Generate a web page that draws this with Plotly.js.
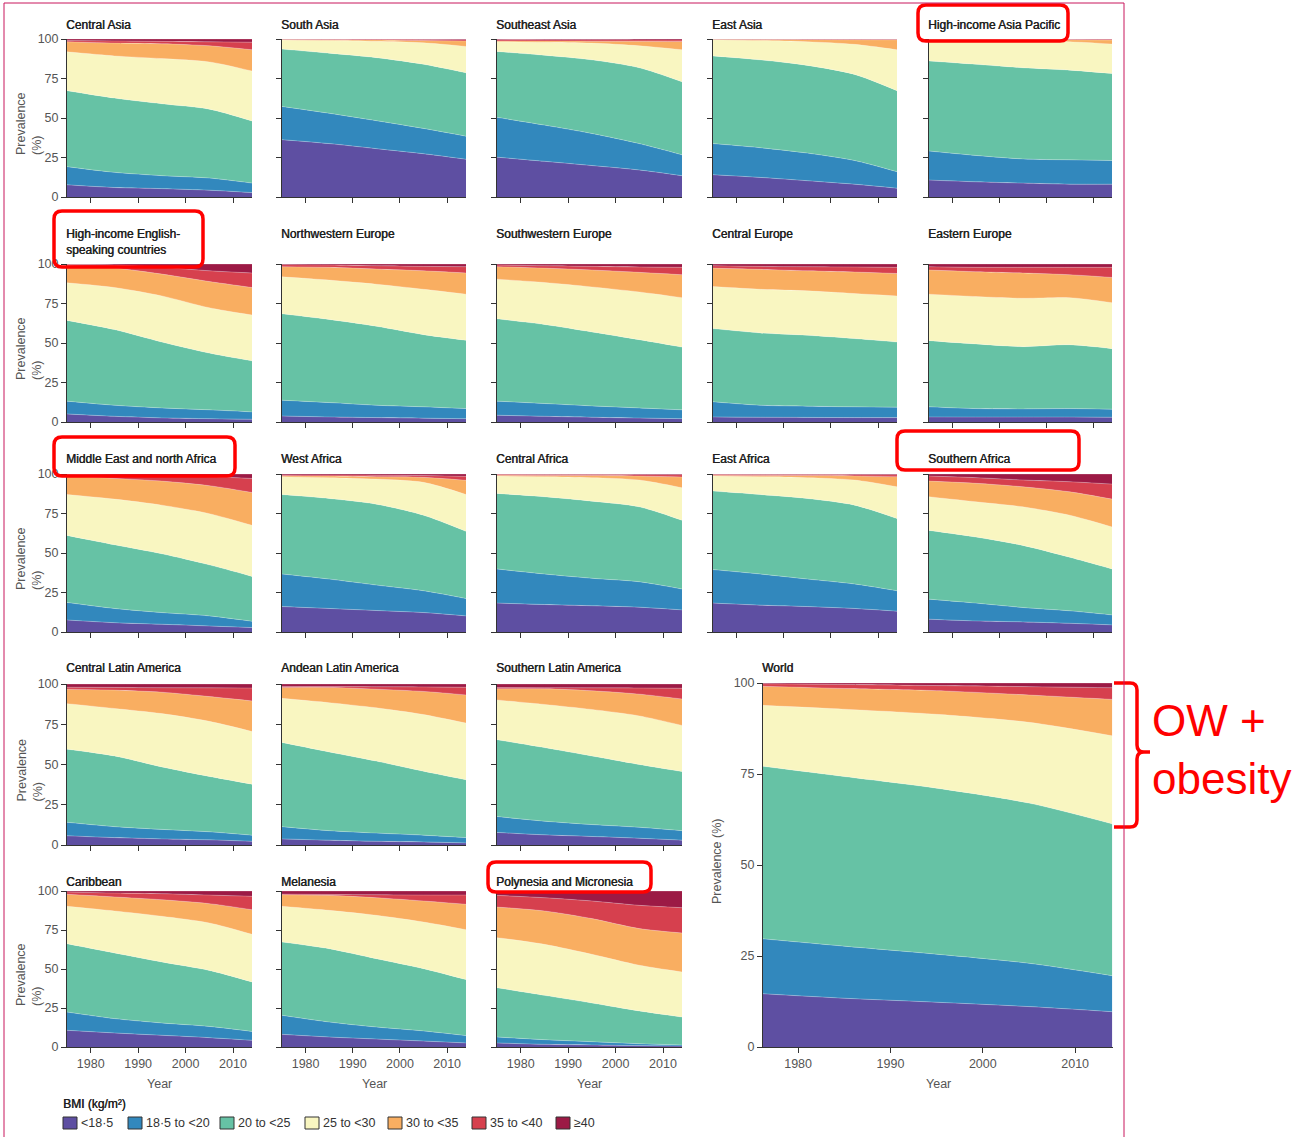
<!DOCTYPE html>
<html>
<head>
<meta charset="utf-8">
<script src="https://cdn.plot.ly/plotly-3.0.1.min.js"></script>
<style>
  html, body { margin: 0; padding: 0; background: #fff; }
  #chart { width: 1296px; height: 1137px; }
</style>
</head>
<body>
<div id="chart"></div>
<script>
// ---- Data: prevalence (%) of each BMI class; rows follow bmiClasses, columns follow years ----
const years = [1975, 1985, 1995, 2005, 2014];
const yearTicks = [1980, 1990, 2000, 2010];
const prevalenceTicks = [0, 25, 50, 75, 100];
const bmiClasses = ['<18·5', '18·5 to <20', '20 to <25', '25 to <30', '30 to <35', '35 to <40', '≥40'];

const centralAsia = [
  [7.7, 6.0, 5.3, 4.3, 2.8],
  [11.5, 9.6, 8.2, 7.7, 6.0],
  [48.1, 47.0, 45.5, 43.6, 39.3],
  [24.6, 26.7, 28.6, 29.9, 31.6],
  [6.3, 8.1, 9.4, 10.2, 13.5],
  [0.8, 1.4, 1.5, 2.5, 4.8],
  [1.0, 1.2, 1.5, 1.8, 2.0]];
const southAsia = [
  [36.3, 33.8, 30.6, 27.4, 23.9],
  [21.0, 19.2, 17.7, 16.0, 14.6],
  [36.3, 38.0, 39.9, 40.6, 40.1],
  [5.7, 8.0, 10.3, 13.6, 16.7],
  [0.4, 0.6, 0.9, 1.4, 3.5],
  [0.2, 0.3, 0.4, 0.7, 0.8],
  [0.1, 0.1, 0.2, 0.3, 0.4]];
const southeastAsia = [
  [25.2, 22.6, 19.9, 17.1, 13.5],
  [25.2, 22.9, 20.3, 16.7, 13.2],
  [41.7, 44.2, 46.6, 48.0, 46.2],
  [6.2, 8.2, 10.6, 13.9, 20.3],
  [0.5, 0.8, 1.2, 2.8, 5.2],
  [0.8, 0.9, 0.9, 0.9, 0.9],
  [0.4, 0.4, 0.5, 0.6, 0.7]];
const eastAsia = [
  [14.1, 12.4, 10.3, 8.1, 5.6],
  [19.7, 18.8, 17.5, 15.0, 10.4],
  [55.5, 55.6, 55.5, 54.5, 51.3],
  [10.3, 12.3, 15.0, 19.0, 25.9],
  [0.2, 0.6, 1.3, 2.9, 6.3],
  [0.1, 0.2, 0.3, 0.3, 0.3],
  [0.1, 0.1, 0.1, 0.2, 0.2]];
const highIncomeAsiaPacific = [
  [10.7, 9.6, 8.8, 8.1, 8.1],
  [18.4, 16.7, 15.3, 15.4, 15.0],
  [57.0, 57.7, 57.7, 56.8, 55.1],
  [13.5, 15.1, 16.9, 18.0, 18.6],
  [0.2, 0.6, 0.9, 1.2, 2.5],
  [0.1, 0.2, 0.3, 0.3, 0.5],
  [0.1, 0.1, 0.1, 0.2, 0.2]];
const highIncomeEnglish = [
  [5.1, 3.6, 2.6, 2.1, 1.7],
  [8.1, 7.0, 6.3, 5.6, 4.7],
  [51.1, 47.9, 41.7, 35.9, 32.3],
  [23.8, 26.6, 29.2, 28.7, 29.0],
  [10.8, 12.3, 13.8, 16.6, 17.4],
  [0.9, 2.0, 4.3, 6.8, 9.2],
  [0.2, 0.6, 2.1, 4.3, 5.7]];
const northwesternEurope = [
  [3.8, 3.2, 2.8, 2.4, 2.1],
  [10.0, 9.1, 7.8, 7.2, 6.4],
  [54.7, 52.6, 50.0, 45.7, 43.2],
  [23.4, 24.9, 26.6, 28.7, 29.2],
  [6.4, 8.1, 9.6, 11.7, 13.4],
  [1.3, 1.5, 2.1, 2.8, 4.0],
  [0.4, 0.6, 1.1, 1.5, 1.7]];
const southwesternEurope = [
  [4.3, 3.6, 3.0, 2.5, 2.1],
  [8.9, 8.1, 7.2, 6.4, 5.6],
  [52.1, 50.0, 46.8, 43.2, 39.7],
  [25.1, 26.6, 28.5, 30.2, 31.3],
  [7.9, 9.1, 10.7, 12.4, 14.5],
  [1.1, 1.5, 2.3, 3.4, 4.7],
  [0.6, 1.1, 1.5, 1.9, 2.1]];
const centralEurope = [
  [3.2, 3.0, 2.9, 2.8, 2.8],
  [9.6, 7.6, 7.1, 6.8, 6.6],
  [46.3, 45.8, 44.9, 43.2, 41.2],
  [26.6, 27.6, 28.1, 28.5, 29.2],
  [11.7, 12.6, 12.7, 13.6, 14.2],
  [1.5, 1.9, 2.6, 3.2, 3.9],
  [1.1, 1.5, 1.7, 1.9, 2.1]];
const easternEurope = [
  [3.2, 3.1, 3.1, 3.1, 3.0],
  [6.4, 5.4, 5.2, 5.4, 5.1],
  [41.9, 40.9, 39.4, 40.4, 38.3],
  [29.4, 30.0, 30.6, 29.8, 29.1],
  [15.3, 15.7, 16.0, 14.5, 16.0],
  [2.1, 2.8, 3.6, 4.7, 6.4],
  [1.7, 2.1, 2.1, 2.1, 2.1]];
const middleEastNorthAfrica = [
  [7.6, 5.9, 4.9, 3.8, 2.8],
  [11.1, 9.0, 7.4, 6.4, 4.0],
  [42.4, 40.3, 37.2, 32.3, 28.4],
  [25.9, 28.9, 30.8, 32.4, 32.3],
  [11.9, 13.1, 15.2, 17.7, 20.8],
  [0.9, 2.2, 3.4, 5.7, 8.9],
  [0.2, 0.6, 1.1, 1.7, 2.8]];
const westAfrica = [
  [16.1, 14.9, 13.6, 12.3, 10.2],
  [20.6, 18.6, 16.1, 13.8, 11.0],
  [50.3, 51.0, 51.2, 47.8, 42.5],
  [11.3, 13.2, 15.9, 20.8, 23.3],
  [0.6, 1.0, 1.5, 3.2, 9.0],
  [0.5, 0.6, 0.9, 1.1, 2.5],
  [0.6, 0.7, 0.8, 1.0, 1.5]];
const centralAfrica = [
  [18.3, 17.4, 16.6, 15.7, 14.0],
  [21.6, 19.3, 17.4, 16.1, 13.2],
  [47.8, 48.9, 48.8, 47.4, 43.5],
  [11.0, 12.7, 14.9, 17.0, 20.6],
  [0.5, 0.8, 1.3, 2.5, 6.8],
  [0.6, 0.6, 0.7, 0.9, 1.4],
  [0.2, 0.3, 0.3, 0.4, 0.5]];
const eastAfrica = [
  [18.3, 17.0, 16.1, 14.9, 13.2],
  [21.2, 19.7, 17.4, 15.5, 12.9],
  [49.7, 50.3, 51.0, 49.9, 45.7],
  [9.5, 11.3, 13.2, 15.9, 20.1],
  [0.5, 0.8, 1.3, 2.6, 6.4],
  [0.6, 0.6, 0.7, 0.8, 1.2],
  [0.2, 0.3, 0.3, 0.4, 0.5]];
const southernAfrica = [
  [8.1, 7.0, 6.4, 5.5, 4.5],
  [12.7, 11.3, 9.1, 7.9, 6.3],
  [43.5, 41.8, 39.3, 33.9, 29.1],
  [21.3, 22.3, 24.4, 26.6, 26.6],
  [9.9, 11.7, 12.7, 14.8, 17.6],
  [3.2, 3.6, 4.3, 6.4, 9.5],
  [1.3, 2.3, 3.8, 4.9, 6.4]];
const centralLatinAmerica = [
  [5.7, 4.6, 3.8, 3.2, 2.3],
  [8.4, 6.8, 5.9, 5.0, 3.8],
  [45.4, 43.9, 38.8, 34.4, 31.7],
  [28.3, 29.5, 33.1, 34.2, 32.7],
  [9.0, 11.4, 13.3, 15.4, 19.0],
  [1.2, 1.7, 2.8, 5.4, 8.0],
  [2.0, 2.1, 2.3, 2.4, 2.5]];
const andeanLatinAmerica = [
  [3.8, 3.0, 2.3, 1.9, 1.3],
  [7.6, 5.9, 5.1, 4.2, 3.3],
  [52.3, 48.9, 44.7, 39.7, 35.9],
  [27.4, 30.6, 33.1, 35.2, 35.2],
  [6.8, 9.5, 11.6, 14.4, 17.5],
  [0.6, 0.5, 1.5, 2.8, 4.8],
  [1.5, 1.6, 1.7, 1.8, 2.0]];
const southernLatinAmerica = [
  [7.8, 6.3, 5.3, 4.2, 3.0],
  [9.9, 8.5, 7.4, 6.8, 5.9],
  [47.7, 45.7, 42.6, 39.0, 36.7],
  [24.7, 26.8, 28.9, 30.2, 28.7],
  [6.9, 9.7, 11.6, 13.5, 16.4],
  [0.8, 0.7, 1.8, 3.8, 6.7],
  [2.2, 2.3, 2.4, 2.5, 2.6]];
const caribbean = [
  [10.7, 9.0, 7.5, 6.0, 4.3],
  [11.7, 9.2, 7.9, 7.2, 5.7],
  [43.8, 42.1, 39.1, 35.9, 31.7],
  [24.0, 26.9, 29.3, 30.4, 30.5],
  [7.7, 9.0, 10.6, 12.4, 15.8],
  [1.5, 2.5, 3.9, 5.5, 8.6],
  [0.6, 1.3, 1.7, 2.6, 3.4]];
const melanesia = [
  [8.1, 6.4, 5.1, 3.8, 2.6],
  [12.2, 9.6, 7.7, 6.5, 4.7],
  [47.0, 47.0, 43.8, 39.9, 35.9],
  [22.9, 24.6, 27.8, 29.9, 32.0],
  [7.4, 9.6, 11.3, 13.5, 16.3],
  [0.4, 0.6, 1.9, 3.8, 5.9],
  [2.0, 2.2, 2.4, 2.6, 2.6]];
const polynesiaMicronesia = [
  [2.6, 1.7, 1.3, 0.9, 0.6],
  [3.8, 3.0, 2.1, 1.2, 0.7],
  [31.6, 28.4, 24.8, 21.0, 17.9],
  [32.1, 32.7, 31.2, 29.3, 28.9],
  [19.6, 21.4, 22.9, 23.5, 25.0],
  [7.5, 8.5, 11.3, 14.9, 16.2],
  [2.8, 4.3, 6.4, 9.2, 10.7]];
const world = [
  [14.8, 13.4, 12.3, 11.1, 9.7],
  [15.2, 14.3, 13.2, 11.9, 9.9],
  [47.5, 46.6, 45.6, 44.0, 41.7],
  [16.5, 18.5, 20.3, 22.2, 24.2],
  [5.2, 5.7, 6.5, 7.5, 10.0],
  [0.6, 1.1, 1.4, 2.3, 3.2],
  [0.2, 0.4, 0.7, 1.0, 1.3]];

// ---- Styling ----
const W = 1296, H = 1137;
const bmiColours = ['#5e4fa2', '#3288bd', '#66c2a5', '#f9f6c1', '#f9ae61', '#d6404e', '#9c1a45'];
const regularFont = '"Liberation Sans", Arial, sans-serif';
const axisColour = '#333';
const labelColour = '#555';
const titleColour = '#1f1f1f';
const markRed = '#ff0000';
const frameColour = '#c8175d';
const titleFont = {family: regularFont, size: 12, color: titleColour, shadow: '0.45px 0 0 ' + titleColour};

// plot-area boxes in pixels: columns [left, right], rows [top, bottom]
const colX = [[67, 252], [282, 466], [497, 682], [713, 897], [929, 1112]];
const rowY = [[39, 197], [264, 422], [474, 632], [684, 845], [891, 1047]];
const titleY = [25, 234, 459, 668, 882];

// region, data, row, column
const panels = [
  ['Central Asia', centralAsia, 0, 0],
  ['South Asia', southAsia, 0, 1],
  ['Southeast Asia', southeastAsia, 0, 2],
  ['East Asia', eastAsia, 0, 3],
  ['High-income Asia Pacific', highIncomeAsiaPacific, 0, 4],
  ['High-income English-<br>speaking countries', highIncomeEnglish, 1, 0],
  ['Northwestern Europe', northwesternEurope, 1, 1],
  ['Southwestern Europe', southwesternEurope, 1, 2],
  ['Central Europe', centralEurope, 1, 3],
  ['Eastern Europe', easternEurope, 1, 4],
  ['Middle East and north Africa', middleEastNorthAfrica, 2, 0],
  ['West Africa', westAfrica, 2, 1],
  ['Central Africa', centralAfrica, 2, 2],
  ['East Africa', eastAfrica, 2, 3],
  ['Southern Africa', southernAfrica, 2, 4],
  ['Central Latin America', centralLatinAmerica, 3, 0],
  ['Andean Latin America', andeanLatinAmerica, 3, 1],
  ['Southern Latin America', southernLatinAmerica, 3, 2],
  ['Caribbean', caribbean, 4, 0],
  ['Melanesia', melanesia, 4, 1],
  ['Polynesia and Micronesia', polynesiaMicronesia, 4, 2]
];

const px = x => x / W;
const py = y => 1 - y / H;

const traces = [];
const layout = {
  width: W, height: H,
  margin: {l: 0, r: 0, t: 0, b: 0, pad: 0},
  paper_bgcolor: '#fff', plot_bgcolor: '#fff',
  showlegend: false,
  font: {family: regularFont, size: 12.5, color: labelColour},
  annotations: [], shapes: []
};

function addPanel(idx, title, data, box, opts) {
  const xa = idx === 1 ? 'x' : 'x' + idx;
  const ya = idx === 1 ? 'y' : 'y' + idx;
  data.forEach((vals, i) => {
    traces.push({
      type: 'scatter', mode: 'lines', x: years, y: vals,
      xaxis: xa, yaxis: ya, stackgroup: 'bmi' + idx,
      line: {width: 0.7, color: 'rgba(255,255,255,0.35)', shape: 'spline', smoothing: 0.8},
      fillcolor: bmiColours[i], name: bmiClasses[i],
      hoverinfo: 'skip', showlegend: false
    });
  });
  const common = {
    showline: true, linecolor: axisColour, linewidth: 1,
    ticks: 'outside', ticklen: 5, tickwidth: 1, tickcolor: axisColour,
    showgrid: false, zeroline: false, fixedrange: true,
    tickfont: {family: regularFont, size: 12.5, color: labelColour}
  };
  layout['xaxis' + (idx === 1 ? '' : idx)] = Object.assign({}, common, {
    domain: [px(box[0]), px(box[1])], anchor: ya,
    range: opts.xRange, tickmode: 'array', tickvals: yearTicks,
    showticklabels: opts.xLabels
  });
  layout['yaxis' + (idx === 1 ? '' : idx)] = Object.assign({}, common, {
    domain: [py(box[3]), py(box[2])], anchor: xa,
    range: [0, 100], tickmode: 'array', tickvals: prevalenceTicks,
    showticklabels: opts.yLabels
  });
  // panel title
  layout.annotations.push({
    xref: 'paper', yref: 'paper', x: px(box[0] - 3), y: py(opts.titleY),
    xanchor: 'left', yanchor: opts.twoLine ? 'top' : 'middle',
    text: title, showarrow: false, align: 'left', font: titleFont
  });
  if (opts.yTitle) {
    layout.annotations.push({
      xref: 'paper', yref: 'paper', x: px(opts.yTitle[0]), y: py(opts.yTitle[1]),
      xanchor: 'center', yanchor: 'middle', textangle: -90, align: 'left',
      text: opts.yTitle[2], showarrow: false,
      font: {family: regularFont, size: 12.5, color: labelColour}
    });
  }
  if (opts.xTitle) {
    layout.annotations.push({
      xref: 'paper', yref: 'paper', x: px((box[0] + box[1]) / 2), y: py(1084),
      xanchor: 'center', yanchor: 'middle', text: 'Year', showarrow: false,
      font: {family: regularFont, size: 12.5, color: labelColour}
    });
  }
}

panels.forEach((p, k) => {
  const [title, data, r, c] = p;
  const box = [colX[c][0], colX[c][1], rowY[r][0], rowY[r][1]];
  const twoLine = title.indexOf('<br>') >= 0;
  addPanel(k + 1, title, data, box, {
    xRange: [1975, 2014],
    xLabels: r === 4, yLabels: c === 0,
    titleY: twoLine ? titleY[r] - 9 : titleY[r], twoLine: twoLine,
    yTitle: c === 0 ? [29, (rowY[r][0] + rowY[r][1]) / 2 + 6, 'Prevalence<br>(%)'] : null,
    xTitle: r === 4
  });
});

addPanel(22, 'World', world, [763, 1113, 683, 1047], {
  xRange: [1976.2, 2014.1], xLabels: true, yLabels: true,
  titleY: 668, twoLine: false,
  yTitle: [717, 862, 'Prevalence (%)'], xTitle: true
});

// ---- Legend ----
layout.annotations.push({
  xref: 'paper', yref: 'paper', x: px(61), y: py(1104), xanchor: 'left', yanchor: 'middle',
  text: 'BMI (kg/m²)', showarrow: false, font: titleFont
});
const legendX = [63, 128, 220, 305, 388, 472, 556];
bmiClasses.forEach((label, i) => {
  layout.shapes.push({
    type: 'rect', xref: 'paper', yref: 'paper',
    x0: px(legendX[i]), x1: px(legendX[i] + 14), y0: py(1129), y1: py(1117),
    fillcolor: bmiColours[i], line: {color: '#333', width: 1}
  });
  layout.annotations.push({
    xref: 'paper', yref: 'paper', x: px(legendX[i] + 16), y: py(1123),
    xanchor: 'left', yanchor: 'middle', text: label, showarrow: false,
    font: {family: regularFont, size: 12.5, color: '#333'}
  });
});

// ---- Highlight boxes and bracket ----
function roundRect(x0, y0, x1, y1, r) {
  const P = (x, y) => px(x) + ',' + py(y);
  return 'M' + P(x0 + r, y0) + ' L' + P(x1 - r, y0) + ' Q' + P(x1, y0) + ' ' + P(x1, y0 + r) +
    ' L' + P(x1, y1 - r) + ' Q' + P(x1, y1) + ' ' + P(x1 - r, y1) +
    ' L' + P(x0 + r, y1) + ' Q' + P(x0, y1) + ' ' + P(x0, y1 - r) +
    ' L' + P(x0, y0 + r) + ' Q' + P(x0, y0) + ' ' + P(x0 + r, y0) + ' Z';
}
const highlightBoxes = [
  [918, 5, 1068, 41],
  [54, 211, 203, 267],
  [54, 437, 235, 476],
  [897, 431, 1079, 470],
  [488, 862, 651, 892]
];
highlightBoxes.forEach(b => {
  layout.shapes.push({
    type: 'path', xref: 'paper', yref: 'paper', path: roundRect(b[0], b[1], b[2], b[3], 8),
    line: {color: markRed, width: 3.5}, fillcolor: 'rgba(0,0,0,0)'
  });
});

(function bracket() {
  const P = (x, y) => px(x) + ',' + py(y);
  const path = 'M' + P(1114, 683) + ' L' + P(1130, 683) + ' Q' + P(1137, 683) + ' ' + P(1137, 690) +
    ' L' + P(1137, 745) + ' Q' + P(1137, 752) + ' ' + P(1144, 752) + ' L' + P(1150, 752) +
    ' M' + P(1144, 752) + ' Q' + P(1137, 752) + ' ' + P(1137, 759) +
    ' L' + P(1137, 820) + ' Q' + P(1137, 827) + ' ' + P(1130, 827) + ' L' + P(1114, 827);
  layout.shapes.push({
    type: 'path', xref: 'paper', yref: 'paper', path: path,
    line: {color: markRed, width: 3.5}
  });
})();
layout.annotations.push({
  xref: 'paper', yref: 'paper', x: px(1150), y: py(720), xanchor: 'left', yanchor: 'middle',
  text: 'OW +', showarrow: false, font: {family: regularFont, size: 44, color: markRed}
});
layout.annotations.push({
  xref: 'paper', yref: 'paper', x: px(1150), y: py(778), xanchor: 'left', yanchor: 'middle',
  text: 'obesity', showarrow: false, font: {family: regularFont, size: 44, color: markRed}
});

// ---- Outer frame ----
[[4, 3, 4, H], [4, 3, 1124, 3], [1124, 3, 1124, H]].forEach(s => {
  layout.shapes.push({
    type: 'line', xref: 'paper', yref: 'paper',
    x0: px(s[0]), y0: py(s[1]), x1: px(s[2]), y1: py(s[3]),
    line: {color: frameColour, width: 1}
  });
});

Plotly.newPlot('chart', traces, layout, {displayModeBar: false, staticPlot: true});
</script>
</body>
</html>
